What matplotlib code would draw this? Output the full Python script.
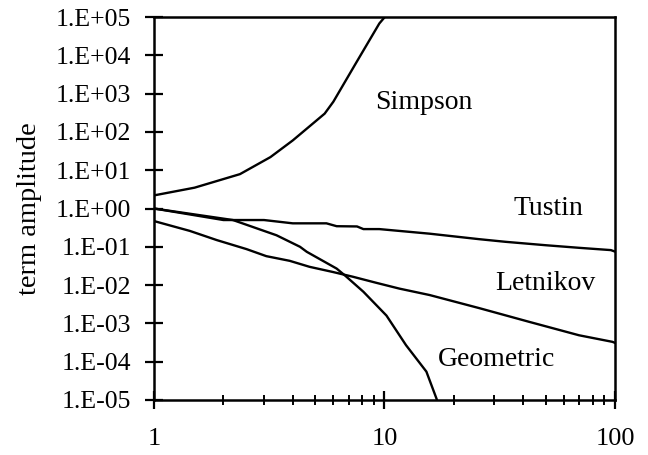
import matplotlib
matplotlib.use("Agg")
import matplotlib.pyplot as plt
from matplotlib.ticker import LogLocator, NullFormatter, FixedLocator

# ---- data ----
simpson_x = [1, 1.5, 2.36, 3.2, 4.0, 5.5, 6.0, 7.5, 9.5, 10.1]
simpson_y = [2.2, 3.5, 7.9, 22, 60, 300, 615, 6100, 6.8e4, 1.05e5]

tustin_x = [1, 2, 3, 4, 5.6, 6.2, 7.6, 8.1, 9.5, 15.7, 25.8, 33.5, 50, 70, 96, 100]
tustin_y = [1.0, 0.5, 0.5, 0.41, 0.41, 0.345, 0.34, 0.29, 0.29, 0.22, 0.158,
            0.135, 0.11, 0.094, 0.082, 0.075]

letnikov_x = [1, 1.43, 1.87, 2.52, 3.07, 3.88, 4.73, 5.97, 7.3, 9.2, 11.6,
              15.7, 25.8, 42.4, 69.8, 97.5, 100]
letnikov_y = [0.47, 0.26, 0.15, 0.087, 0.057, 0.043, 0.030, 0.022, 0.0165,
              0.0115, 0.0081, 0.0055, 0.0025, 0.0011, 4.9e-4, 3.3e-4, 3.1e-4]

geometric_x = [1, 2.2, 3.4, 4.3, 4.6, 6.2, 6.8, 8.1, 10.2, 12.4, 15.2, 16.8, 17.5]
geometric_y = [1.0, 0.5, 0.2, 0.1, 0.074, 0.027, 0.017, 0.0067, 0.0016,
               2.7e-4, 5.5e-5, 1.1e-5, 5e-6]

xtick_labels = ["1", "10", "100"]
ytick_labels = ["1.E-05", "1.E-04", "1.E-03", "1.E-02", "1.E-01", "1.E+00",
                "1.E+01", "1.E+02", "1.E+03", "1.E+04", "1.E+05"]
labels = ["Simpson", "Tustin", "Letnikov", "Geometric"]

plt.rcParams['font.family'] = ['Liberation Serif', 'DejaVu Serif']

fig = plt.figure(figsize=(6.48, 4.55), dpi=100)
ax = fig.add_axes([0.2377, 0.1209, 0.949 - 0.2377, 0.9626 - 0.1209])

lw = 1.7
for xs, ys in [(simpson_x, simpson_y), (tustin_x, tustin_y),
               (letnikov_x, letnikov_y), (geometric_x, geometric_y)]:
    ax.plot(xs, ys, color='black', lw=lw, solid_joinstyle='round')

ax.set_xscale('log')
ax.set_yscale('log')
ax.set_xlim(1, 100)
ax.set_ylim(1e-5, 1e5)

ax.xaxis.set_major_locator(FixedLocator([1, 10, 100]))
ax.set_xticklabels(xtick_labels)
ax.xaxis.set_minor_locator(LogLocator(base=10, subs=range(2, 10)))
ax.xaxis.set_minor_formatter(NullFormatter())

yt = [10.0 ** e for e in range(-5, 6)]
ax.yaxis.set_major_locator(FixedLocator(yt))
ax.set_yticklabels(ytick_labels)
ax.yaxis.set_minor_locator(FixedLocator([]))

ax.tick_params(axis='y', which='major', direction='inout', length=13, width=1.6,
               labelsize=18.5, pad=10)
ax.tick_params(axis='x', which='major', direction='inout', length=13, width=1.6,
               labelsize=19, pad=14)
ax.tick_params(axis='x', which='minor', direction='inout', length=7.5, width=1.4)

for s in ax.spines.values():
    s.set_linewidth(1.8)

ax.set_ylabel("term amplitude", fontsize=20.5)
ax.yaxis.set_label_coords(-0.242, 0.5)

pos = [(0.586, 0.778), (0.855, 0.501), (0.850, 0.305), (0.744, 0.107)]
for lab, (px, py) in zip(labels, pos):
    ax.text(px, py, lab, transform=ax.transAxes, fontsize=20,
            ha='center', va='center')

fig.savefig("out.png", dpi=100)
